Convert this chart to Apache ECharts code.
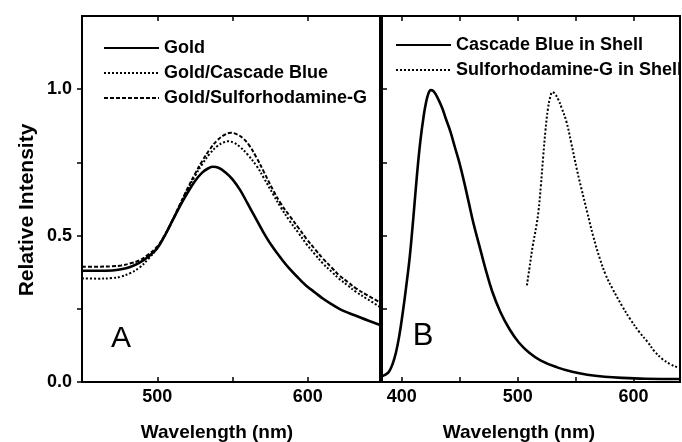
<!DOCTYPE html>
<html>
<head>
<meta charset="utf-8">
<script src="https://cdn.jsdelivr.net/npm/echarts@6/dist/echarts.min.js"></script>
<style>html,body{margin:0;padding:0;background:#fff;}#c{width:682px;height:442px;}</style>
</head>
<body>
<div id="c"></div>
<script>
// ---- Panel A: absorbance (wavelength nm, relative intensity)
const goldData = [[450,0.380],[460,0.380],[470,0.381],[476,0.385],[482,0.393],[488,0.407],[494,0.428],[500,0.457],[505,0.50],[510,0.55],[515,0.60],[520,0.645],[525,0.686],[530,0.716],[534,0.73],[537,0.735],[541,0.731],[545,0.717],[550,0.692],[555,0.656],[560,0.61],[565,0.563],[570,0.516],[576,0.466],[582,0.424],[588,0.386],[594,0.354],[599,0.329],[605,0.305],[610,0.285],[616,0.265],[621,0.25],[627,0.236],[632,0.226],[640,0.21],[648,0.195]];
const goldCascadeData = [[450,0.354],[460,0.353],[470,0.355],[476,0.36],[482,0.372],[488,0.39],[494,0.42],[500,0.457],[505,0.50],[510,0.55],[515,0.603],[520,0.655],[525,0.703],[530,0.745],[535,0.78],[540,0.806],[544,0.818],[547,0.822],[551,0.817],[555,0.803],[560,0.777],[566,0.738],[571,0.695],[577,0.641],[582,0.597],[588,0.55],[594,0.508],[599,0.472],[605,0.435],[610,0.405],[616,0.376],[621,0.352],[627,0.328],[632,0.308],[640,0.282],[648,0.256]];
const goldSulfoData = [[450,0.394],[460,0.394],[470,0.395],[476,0.398],[482,0.405],[488,0.415],[494,0.435],[500,0.463],[505,0.502],[510,0.552],[515,0.606],[520,0.66],[525,0.71],[530,0.756],[535,0.795],[540,0.826],[545,0.845],[549,0.851],[553,0.846],[557,0.832],[561,0.809],[566,0.766],[571,0.716],[577,0.655],[582,0.61],[588,0.567],[594,0.525],[599,0.49],[605,0.452],[610,0.422],[616,0.39],[621,0.364],[627,0.34],[632,0.32],[640,0.295],[648,0.272]];
// ---- Panel B: emission
const cascadeShellData = [[383,0.02],[386,0.025],[389,0.035],[392,0.06],[395,0.10],[398,0.16],[401,0.24],[404,0.33],[407,0.43],[410,0.56],[413,0.70],[416,0.82],[419,0.91],[421,0.955],[423,0.985],[425,0.997],[427,0.995],[429,0.985],[432,0.962],[435,0.935],[438,0.90],[442,0.855],[446,0.80],[450,0.745],[454,0.68],[458,0.61],[462,0.54],[467,0.465],[472,0.39],[478,0.31],[485,0.24],[493,0.18],[501,0.135],[510,0.10],[520,0.073],[534,0.05],[547,0.035],[560,0.025],[575,0.018],[590,0.014],[610,0.011],[640,0.01]];
const sulfoShellData = [[508,0.33],[510,0.385],[513,0.465],[516,0.53],[518,0.585],[520,0.67],[522,0.77],[524,0.86],[526,0.93],[528,0.972],[530,0.99],[532,0.985],[535,0.965],[538,0.935],[542,0.89],[546,0.82],[551,0.727],[555,0.66],[560,0.58],[565,0.50],[571,0.42],[576,0.365],[582,0.317],[590,0.26],[597,0.215],[605,0.17],[612,0.137],[618,0.105],[625,0.078],[632,0.06],[638,0.05],[640,0.048]];

const seriesNamesA = ['Gold','Gold/Cascade Blue','Gold/Sulforhodamine-G'];
const seriesNamesB = ['Cascade Blue in Shell','Sulforhodamine-G in Shell'];
const xTicksA = [500,550,600], xLabelsA = [500,600];
const xTicksB = [400,450,500,550,600], xLabelsB = [400,500,600];
const yTicks = [0,0.25,0.5,0.75,1.0], yLabels = [0,0.5,1.0];
const yTicksB = [0.25,0.5,0.75,1.0];
const yAxisTitle = 'Relative Intensity', xAxisTitle = 'Wavelength (nm)';

const FF = "'Liberation Sans', Arial, Helvetica, sans-serif";
const chart = echarts.init(document.getElementById('c'), null, {renderer:'canvas'});
const axLine = {show:true, lineStyle:{color:'#000', width:2}};
function xAx(grid, min, max, ticks, labels, pos){
  return {type:'value', gridIndex:grid, min:min, max:max, position:pos,
    axisLine:axLine, splitLine:{show:false},
    axisTick:{show:true, inside:true, length:5, customValues:ticks, lineStyle:{color:'#000',width:1.5}},
    axisLabel:{show:!!labels, customValues:labels||[], margin:6, color:'#000', fontSize:18, fontWeight:'bold', fontFamily:FF}};
}
const line = (name, data, xi, yi, width, type) => ({
  name, type:'line', xAxisIndex:xi, yAxisIndex:yi, data, smooth:0.4, symbol:'none',
  lineStyle:{color:'#000', width, type}, itemStyle:{color:'#000'}, z:3, animation:false
});
chart.setOption({
  backgroundColor:'#fff',
  animation:false,
  grid:[
    {left:82, top:16, width:298, height:366, show:true, borderColor:'#000', borderWidth:2, backgroundColor:'transparent'},
    {left:382, top:16, width:298, height:366, show:true, borderColor:'#000', borderWidth:2, backgroundColor:'transparent'}
  ],
  xAxis:[
    xAx(0,450,648,xTicksA,xLabelsA,'bottom'),
    xAx(0,450,648,xTicksA,null,'top'),
    xAx(1,383,640,xTicksB,xLabelsB,'bottom'),
    xAx(1,383,640,xTicksB,null,'top')
  ],
  yAxis:[
    {type:'value', gridIndex:0, min:0, max:1.25, position:'left', axisLine:axLine, splitLine:{show:false},
     axisTick:{show:true, inside:false, length:5, customValues:yTicks, lineStyle:{color:'#000',width:1.5}},
     axisLabel:{customValues:yLabels, formatter:v=>v.toFixed(1), margin:10, color:'#000', fontSize:18, fontWeight:'bold', fontFamily:FF}},
    {type:'value', gridIndex:1, min:0, max:1.25, position:'left', axisLine:axLine, splitLine:{show:false},
     axisTick:{show:true, inside:true, length:5, customValues:yTicksB, lineStyle:{color:'#000',width:1.5}},
     axisLabel:{show:false}}
  ],
  legend:[
    {data:seriesNamesA, left:98, top:34, orient:'vertical', itemWidth:55, itemHeight:10, itemGap:7, itemStyle:{opacity:0},
     textStyle:{color:'#000', fontSize:18, fontWeight:'bold', fontFamily:FF, lineHeight:18}, selectedMode:false},
    {data:seriesNamesB, left:390, top:31, orient:'vertical', itemWidth:55, itemHeight:10, itemGap:7, itemStyle:{opacity:0},
     textStyle:{color:'#000', fontSize:18, fontWeight:'bold', fontFamily:FF, lineHeight:18}, selectedMode:false}
  ],
  series:[
    line(seriesNamesA[0], goldData, 0, 0, 2.6, 'solid'),
    line(seriesNamesA[1], goldCascadeData, 0, 0, 2, [2,2]),
    line(seriesNamesA[2], goldSulfoData, 0, 0, 2, [4,2]),
    line(seriesNamesB[0], cascadeShellData, 2, 1, 2.6, 'solid'),
    line(seriesNamesB[1], sulfoShellData, 2, 1, 2, [2,2])
  ],
  graphic:[
    {type:'text', x:27, y:210, rotation:Math.PI/2, style:{text:yAxisTitle, fill:'#000', font:"bold 21px "+FF, textAlign:'center', textVerticalAlign:'middle'}},
    {type:'text', x:217, y:433, style:{text:xAxisTitle, fill:'#000', font:"bold 19px "+FF, textAlign:'center', textVerticalAlign:'middle'}},
    {type:'text', x:519, y:433, style:{text:xAxisTitle, fill:'#000', font:"bold 19px "+FF, textAlign:'center', textVerticalAlign:'middle'}},
    {type:'text', x:121, y:339, style:{text:'A', fill:'#000', font:"30px "+FF, textAlign:'center', textVerticalAlign:'middle'}},
    {type:'text', x:423, y:336, style:{text:'B', fill:'#000', font:"31px "+FF, textAlign:'center', textVerticalAlign:'middle'}}
  ]
});
</script>
</body>
</html>
